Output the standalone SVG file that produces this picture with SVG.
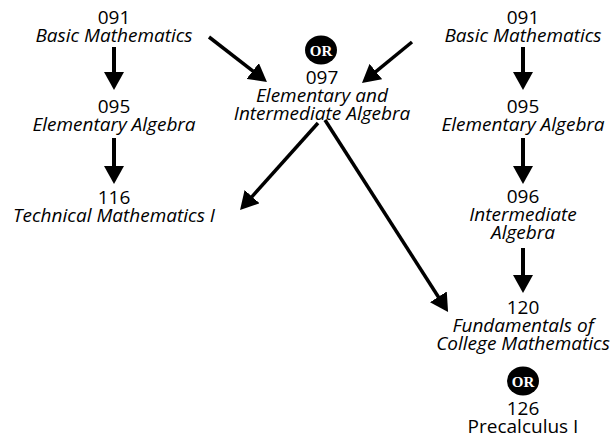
<svg xmlns="http://www.w3.org/2000/svg" width="616" height="442" viewBox="0 0 616 442">
<style>
text{font-family:"Open Sans","DejaVu Sans",sans-serif;font-size:19px;fill:#000;text-anchor:middle}
.i{font-style:italic}
.or{font-family:"Liberation Serif",serif;font-weight:bold;font-size:15px;fill:#fff}
.v{stroke:#000;stroke-width:4;fill:none}
.d{stroke:#000;stroke-width:3.5;fill:none}
</style>
<defs>
<marker id="ah" viewBox="0 0 18 20" refX="4" refY="10" markerWidth="18" markerHeight="20" markerUnits="userSpaceOnUse" orient="auto">
<path d="M0,0 L18,10 L0,20 z" fill="#000"/>
</marker>
</defs>
<rect width="616" height="442" fill="#fff"/>
<g id="connectors">
<line class="v" x1="114" y1="47" x2="114" y2="76" marker-end="url(#ah)"/>
<line class="v" x1="114" y1="138" x2="114" y2="170" marker-end="url(#ah)"/>
<line class="v" x1="523" y1="47" x2="523" y2="76" marker-end="url(#ah)"/>
<line class="v" x1="523" y1="138" x2="523" y2="170" marker-end="url(#ah)"/>
<line class="v" x1="523" y1="248" x2="523" y2="279" marker-end="url(#ah)"/>
<line class="d" x1="209" y1="37" x2="255.9" y2="73.4" marker-end="url(#ah)"/>
<line class="d" x1="412" y1="42" x2="372.8" y2="74.1" marker-end="url(#ah)"/>
<line class="d" x1="318" y1="123" x2="249.4" y2="199.6" marker-end="url(#ah)"/>
<line class="d" x1="325" y1="120" x2="440.5" y2="300.2" marker-end="url(#ah)"/>
</g>
<g id="n091a"><text x="114" y="24">091</text><text class="i" x="114" y="42">Basic Mathematics</text></g>
<g id="n095a"><text x="114" y="113">095</text><text class="i" x="114" y="131">Elementary Algebra</text></g>
<g id="n116"><text x="114" y="204">116</text><text class="i" x="114" y="222">Technical Mathematics I</text></g>
<g id="or1"><ellipse cx="321" cy="50" rx="16" ry="14.5" fill="#000"/><text class="or" x="321" y="55.5">OR</text></g>
<g id="n097"><text x="322" y="84">097</text><text class="i" x="322" y="102">Elementary and</text><text class="i" x="322" y="120">Intermediate Algebra</text></g>
<g id="n091b"><text x="523" y="24">091</text><text class="i" x="523" y="42">Basic Mathematics</text></g>
<g id="n095b"><text x="523" y="113">095</text><text class="i" x="523" y="131">Elementary Algebra</text></g>
<g id="n096"><text x="523" y="203">096</text><text class="i" x="523" y="221">Intermediate</text><text class="i" x="523" y="239">Algebra</text></g>
<g id="n120"><text x="523" y="314">120</text><text class="i" x="523" y="332">Fundamentals of</text><text class="i" x="523" y="350">College Mathematics</text></g>
<g id="or2"><ellipse cx="523" cy="381" rx="16" ry="14.5" fill="#000"/><text class="or" x="523" y="386.5">OR</text></g>
<g id="n126"><text x="523" y="415">126</text><text x="523" y="433">Precalculus I</text></g>
</svg>
